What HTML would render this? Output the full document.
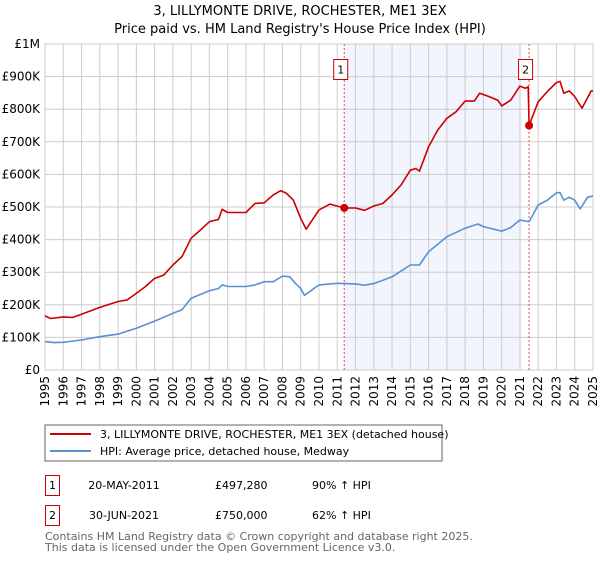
<!DOCTYPE html>
<html><head><meta charset="utf-8"><style>
body{margin:0;background:#fff;font-family:"DejaVu Sans","Liberation Sans",sans-serif;}
svg text{font-family:"DejaVu Sans","Liberation Sans",sans-serif;}
</style></head><body>
<svg id="c" width="600" height="560" xmlns="http://www.w3.org/2000/svg">
<text x="300" y="15" text-anchor="middle" font-size="13" fill="#000">3, LILLYMONTE DRIVE, ROCHESTER, ME1 3EX</text>
<text x="300" y="33" text-anchor="middle" font-size="13" fill="#000">Price paid vs. HM Land Registry's House Price Index (HPI)</text>
<g id="grid"></g>
<g id="marks"></g>
<g id="axes"></g>
<g>
<rect x="45" y="425" width="397" height="36" fill="#fff" stroke="#666" stroke-width="1"/>
<line x1="50" y1="434" x2="91" y2="434" stroke="#cc0000" stroke-width="2"/>
<text x="100" y="438" font-size="11">3, LILLYMONTE DRIVE, ROCHESTER, ME1 3EX (detached house)</text>
<line x1="50" y1="451" x2="91" y2="451" stroke="#5b8fd4" stroke-width="2"/>
<text x="100" y="455" font-size="11">HPI: Average price, detached house, Medway</text>
</g>
<g font-size="11">
<rect x="45.5" y="475.5" width="14" height="20" fill="#fff" stroke="#cc0000"/>
<text x="52.5" y="489" text-anchor="middle">1</text>
<text x="124" y="489" text-anchor="middle">20-MAY-2011</text>
<text x="215" y="489">£497,280</text>
<text x="312" y="489">90% ↑ HPI</text>
<rect x="45.5" y="505.5" width="14" height="20" fill="#fff" stroke="#cc0000"/>
<text x="52.5" y="519" text-anchor="middle">2</text>
<text x="124" y="519" text-anchor="middle">30-JUN-2021</text>
<text x="215" y="519">£750,000</text>
<text x="312" y="519">62% ↑ HPI</text>
</g>
<text x="45" y="540" font-size="11" fill="#666">Contains HM Land Registry data © Crown copyright and database right 2025.</text>
<text x="45" y="551" font-size="11" fill="#666">This data is licensed under the Open Government Licence v3.0.</text>
</svg>
<script>
const yearTicks=[1995,1996,1997,1998,1999,2000,2001,2002,2003,2004,2005,2006,2007,2008,2009,2010,2011,2012,2013,2014,2015,2016,2017,2018,2019,2020,2021,2022,2023,2024,2025];
const valueTicks=[0,100,200,300,400,500,600,700,800,900,1000];
const valueTickLabels=["£0","£100K","£200K","£300K","£400K","£500K","£600K","£700K","£800K","£900K","£1M"];
const hpiYears=[1995,1995.5,1996,1997,1998,1999,2000,2001,2002,2002.5,2003,2004,2004.5,2004.7,2005,2006,2006.5,2007,2007.5,2008,2008.4,2008.7,2009,2009.2,2010,2011,2012,2012.5,2013,2014,2015,2015.5,2016,2017,2018,2018.7,2019,2020,2020.5,2021,2021.5,2022,2022.5,2023,2023.2,2023.4,2023.7,2024,2024.3,2024.7,2025];
const hpiValues=[87,84,85,92,102,110,128,150,174,185,220,243,250,261,256,256,261,271,271,288,286,266,250,229,261,266,264,260,265,286,322,322,363,409,435,448,440,426,437,460,455,506,521,544,544,521,530,521,494,530,533];
const priceYears=[1995,1995.3,1996,1996.5,1997,1998,1999,1999.5,2000,2000.5,2001,2001.5,2002,2002.5,2003,2003.5,2004,2004.5,2004.7,2005,2006,2006.5,2007,2007.5,2007.9,2008.2,2008.6,2009,2009.3,2010,2010.6,2011.38,2012,2012.5,2013,2013.5,2014,2014.5,2015,2015.3,2015.5,2016,2016.5,2017,2017.5,2018,2018.5,2018.8,2019.3,2019.8,2020,2020.5,2021,2021.3,2021.45,2021.5,2022,2022.5,2023,2023.2,2023.4,2023.7,2024,2024.4,2024.9,2025];
const priceValues=[166,158,163,161,171,192,210,215,235,256,281,291,322,348,404,429,455,462,493,483,483,511,513,537,550,543,521,465,432,491,509,497,497,490,503,511,537,568,613,618,610,685,736,772,792,825,825,849,839,827,810,828,871,864,869,750,823,854,882,885,849,856,839,803,856,856];
const saleYears=[2011.38,2021.5];
const saleValues=[497.28,750];
const saleLabels=["1","2"];

const X0=45,X1=593,Y0=370,Y1=44;
const x=y=>X0+(y-1995)/30*(X1-X0);
const yv=v=>Y0-v/1000*(Y0-Y1);
const NS="http://www.w3.org/2000/svg";
function mk(tag,attrs,parent){const e=document.createElementNS(NS,tag);for(const k in attrs)e.setAttribute(k,attrs[k]);parent.appendChild(e);return e;}
const grid=document.getElementById('grid'),marks=document.getElementById('marks'),axes=document.getElementById('axes');

let sh=mk('rect',{x:x(saleYears[0]),y:Y1,width:x(2021.1)-x(saleYears[0]),height:Y0-Y1,fill:'#eef2fc',opacity:0.75},grid);



yearTicks.forEach(t=>{
  let l=mk('line',{x1:x(t),x2:x(t),y1:Y1,y2:Y0,stroke:'#cccccc','stroke-width':1},grid);
  
  
  let tx=mk('text',{x:0,y:0,'font-size':12,'text-anchor':'end',transform:`translate(${x(t)+4},${Y0+6}) rotate(-90)`},axes);
  tx.textContent=t;
  
  
});
valueTicks.forEach((v,i)=>{
  let l=mk('line',{x1:X0,x2:X1,y1:yv(v),y2:yv(v),stroke:'#cccccc','stroke-width':1},grid);
  
  
  let tx=mk('text',{x:X0-5,y:yv(v)+4,'font-size':12,'text-anchor':'end'},axes);
  tx.textContent=valueTickLabels[i];
  
  
});
let fr=mk('rect',{x:X0,y:Y1,width:X1-X0,height:Y0-Y1,fill:'none',stroke:'#cccccc'},grid);



saleYears.forEach((s,i)=>{
  let l=mk('line',{x1:x(s),x2:x(s),y1:Y1,y2:Y0,stroke:'#ee4444','stroke-width':1,'stroke-dasharray':'2,2'},marks);
  
  
  let r=mk('rect',{x:x(s)-10.5,y:59.5,width:14,height:20,fill:'#fff',stroke:'#cc0000'},marks);
  
  
  let t=mk('text',{x:x(s)-3.5,y:73.5,'font-size':11,'text-anchor':'middle'},marks);
  t.textContent=saleLabels[i];
  
  
});

function line(xs,vs,color,name){
  const d=xs.map((t,i)=>(i?'L':'M')+x(t).toFixed(1)+','+yv(vs[i]).toFixed(1)).join('');
  let p=mk('path',{d:d,fill:'none',stroke:color,'stroke-width':1.6,'stroke-linejoin':'round'},marks);
  
  
}
line(hpiYears,hpiValues,'#5b8fd4','hpi-line');
line(priceYears,priceValues,'#cc0000','price-line');
saleYears.forEach((s,i)=>{
  let c=mk('circle',{cx:x(s),cy:yv(saleValues[i]),r:4,fill:'#cc0000'},marks);
  
  
});
</script>
</body></html>
